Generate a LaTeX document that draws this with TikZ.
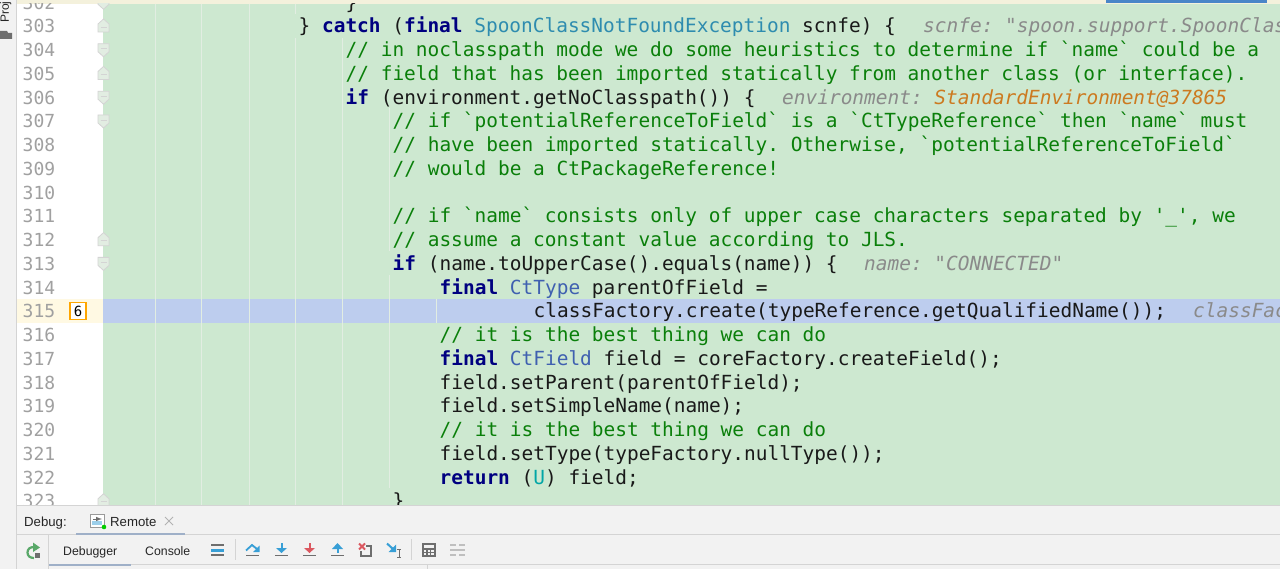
\documentclass[tikz,border=0pt]{standalone}
\usepackage{fontspec}
\setmainfont{Liberation Sans}
\newfontfamily\codefont{DejaVu Sans Mono}
\definecolor{editorgreen}{HTML}{CDE8D0}
\definecolor{rowblue}{HTML}{BDCDEE}
\definecolor{rowcream}{HTML}{FFF9E3}
\definecolor{panelgray}{HTML}{F2F2F2}
\definecolor{strip}{HTML}{F4F1DC}
\definecolor{rulegray}{HTML}{D4D4D4}
\definecolor{guide}{HTML}{E2EDE2}
\definecolor{numgray}{HTML}{A0A0A0}
\definecolor{commentgreen}{HTML}{0A7F0A}
\definecolor{keynavy}{HTML}{000080}
\definecolor{typeblue}{HTML}{3F60B0}
\definecolor{typeteal}{HTML}{2E8CAF}
\definecolor{hintgray}{HTML}{8A8A8A}
\definecolor{hintorange}{HTML}{CC7A20}
\definecolor{iconblue}{HTML}{389FD6}
\definecolor{iconred}{HTML}{DB5860}
\definecolor{icongray}{HTML}{6E6E6E}
\definecolor{icongreen}{HTML}{59A869}
\definecolor{tabline}{HTML}{9FB0C8}
\definecolor{tabbar}{HTML}{4A86C8}
\newcommand{\rowy}[1]{{33+(#1-303)*23.74}}
\newcommand{\foldy}[1]{{26+(#1-303)*23.74}}
\newcommand{\kw}[1]{\textcolor{keynavy}{\bfseries #1}}
\tikzset{
  codeline/.style={anchor=base west,inner sep=0pt,font=\codefont\frenchspacing\fontsize{19.45}{24}\selectfont,text=black!90},
  commentline/.style={codeline,text=commentgreen},
  hintline/.style={codeline,text=hintgray,font=\codefont\frenchspacing\itshape\fontsize{19.45}{24}\selectfont},
  gutternum/.style={anchor=base west,inner sep=0pt,font=\codefont\fontsize{18}{22}\selectfont,text=numgray},
  uilabel/.style={anchor=base west,inner sep=0pt,font=\fontsize{13.2}{16}\selectfont,text=black!85},
  tablabel/.style={uilabel,font=\fontsize{12.3}{16}\selectfont},
  guideline/.style={guide,line width=1pt},
  foldup/.pic={\draw[rulegray,fill=guide,line width=.8pt] (-5.5,6) -- (-5.5,-2) -- (0,-7) -- (5.5,-2) -- (5.5,6) -- cycle;
    \draw[rulegray,line width=.8pt] (-3,1) -- (3,1);},
  folddown/.pic={\draw[rulegray,fill=guide,line width=.8pt] (-5.5,-6) -- (-5.5,2) -- (0,7) -- (5.5,2) -- (5.5,-6) -- cycle;
    \draw[rulegray,line width=.8pt] (-3,-1) -- (3,-1);},
  stepbar/.style={icongray,line width=1.6pt},
}
\begin{document}
\begin{tikzpicture}[x=1pt,y=-1pt]
  \useasboundingbox (0,0) rectangle (1280,569);
  \clip (0,0) rectangle (1280,569);
  % backgrounds
  \fill[panelgray] (0,0) rectangle (1280,569);
  \fill[strip] (17,0) rectangle (1280,4);
  \fill[tabbar] (1106,0) rectangle (1267,3);
  \fill[white] (17,4) rectangle (103,505);
  \fill[editorgreen] (103,4) rectangle (1280,505);
  \fill[rowcream] (17,299.3) rectangle (103,322.8);
  \fill[rowblue] (103,299.3) rectangle (1280,322.8);
  \draw[rulegray] (16.5,0) -- (16.5,569);

  \begin{scope}
    \clip (17,4) rectangle (1280,505);
    % indent guides
    \foreach \gx in {155,201,249} \draw[guideline] (\gx,4) -- (\gx,505);
    \draw[guideline] (295,4) -- (295,14);
    \draw[guideline] (295,38) -- (295,505);
    \draw[guideline] (342,38) -- (342,505);
    \draw[guideline] (389,108) -- (389,251);
    \draw[guideline] (389,275) -- (389,488);
    \draw[guideline] (436,299.3) -- (436,322.8);
    % gutter
    \foreach \n in {302,...,323}
      \node[gutternum] (num\n) at (22.5,\rowy{\n}) {\n};
    \foreach \n in {303,305,312,323}
      \pic at (103.5,\foldy{\n}) {foldup};
    \foreach \n in {302,304,306,307,313}
      \pic at (103.5,\foldy{\n}) {folddown};

    % code
    \node[codeline] (l302) at (345.5,\rowy{302}) {\}};
    \node[codeline] (l303) at (298.5,\rowy{303}) {\} \kw{catch} (\kw{final} \textcolor{typeteal}{SpoonClassNotFoundException} scnfe) \{};
    \node[hintline] (h303) at (923,\rowy{303}) {scnfe: "spoon.support.SpoonClassNotFoundException};
    \node[commentline] (l304) at (345.5,\rowy{304}) {// in noclasspath mode we do some heuristics to determine if `name` could be a};
    \node[commentline] (l305) at (345.5,\rowy{305}) {// field that has been imported statically from another class (or interface).};
    \node[codeline] (l306) at (345.5,\rowy{306}) {\kw{if} (environment.getNoClasspath()) \{};
    \node[hintline] (h306) at (782,\rowy{306}) {environment: \textcolor{hintorange}{StandardEnvironment@37865}};
    \node[commentline] (l307) at (392.5,\rowy{307}) {// if `potentialReferenceToField` is a `CtTypeReference` then `name` must};
    \node[commentline] (l308) at (392.5,\rowy{308}) {// have been imported statically. Otherwise, `potentialReferenceToField`};
    \node[commentline] (l309) at (392.5,\rowy{309}) {// would be a CtPackageReference!};
    \node[commentline] (l311) at (392.5,\rowy{311}) {// if `name` consists only of upper case characters separated by '\_', we};
    \node[commentline] (l312) at (392.5,\rowy{312}) {// assume a constant value according to JLS.};
    \node[codeline] (l313) at (392.5,\rowy{313}) {\kw{if} (name.toUpperCase().equals(name)) \{};
    \node[hintline] (h313) at (864,\rowy{313}) {name: "CONNECTED"};
    \node[codeline] (l314) at (439.5,\rowy{314}) {\kw{final} \textcolor{typeblue}{CtType} parentOfField =};
    \node[codeline] (l315) at (533.5,\rowy{315}) {classFactory.create(typeReference.getQualifiedName());};
    \node[hintline] (h315) at (1193,\rowy{315}) {classFactory};
    \node[commentline] (l316) at (439.5,\rowy{316}) {// it is the best thing we can do};
    \node[codeline] (l317) at (439.5,\rowy{317}) {\kw{final} \textcolor{typeblue}{CtField} field = coreFactory.createField();};
    \node[codeline] (l318) at (439.5,\rowy{318}) {field.setParent(parentOfField);};
    \node[codeline] (l319) at (439.5,\rowy{319}) {field.setSimpleName(name);};
    \node[commentline] (l320) at (439.5,\rowy{320}) {// it is the best thing we can do};
    \node[codeline] (l321) at (439.5,\rowy{321}) {field.setType(typeFactory.nullType());};
    \node[codeline] (l322) at (439.5,\rowy{322}) {\kw{return} (\textcolor{teal!70!cyan}{U}) field;};
    \node[codeline] (l323) at (392.5,\rowy{323}) {\}};
  \end{scope}

  % hit counter
  \node[draw=orange!70!yellow,fill=white,line width=1.2pt,inner sep=0pt,minimum width=16pt,minimum height=17pt,font=\codefont\fontsize{14}{16}\selectfont] (hits) at (78,311) {6};

  % side tab
  \node[rotate=90,anchor=base west,inner sep=0pt,font=\fontsize{12}{14}\selectfont,text=black!85] (proj) at (9,23) {Proj};
  \fill[icongray] (0,31) -- (7,31) -- (8,33) -- (12,33) -- (12,39) -- (0,39) -- cycle;

  % debug panel
  \draw[rulegray] (17,505) -- (1280,505);
  \draw[rulegray] (17,534.5) -- (1280,534.5);
  \draw[rulegray] (48.5,535) -- (48.5,569);
  \draw[rulegray] (49,564.5) -- (1280,564.5);
  \draw[rulegray] (427.5,565) -- (427.5,569);
  \fill[tabline] (76,532.5) rectangle (185,535);
  \fill[tabline] (49,563.5) rectangle (131,566);
  \node[uilabel] (debuglabel) at (24,526) {Debug:};
  \node[uilabel] (remote) at (110,526) {Remote};
  \node[tablabel] (debugger) at (63,555) {Debugger};
  \node[tablabel] (console) at (145,555) {Console};
  % remote tab icon
  \draw[icongray!70,fill=white] (90,514) rectangle (104,527);
  \fill[iconblue!50] (92,521) rectangle (102,525);
  \draw[icongray,line width=1pt,-latex] (93,519) -- (102,519);
  \fill[green!80!black] (104,527) circle (2.3);
  \draw[black!30,line width=1pt] (165,517) -- (173,525) (173,517) -- (165,525);
  % rerun
  \draw[icongreen,line width=2.2pt] (34,547) .. controls (30,547) and (27.5,549) .. (27.5,552.5) .. controls (27.5,556) and (30,558) .. (34,558);
  \fill[icongreen] (33,542.5) -- (40,547.5) -- (33,552) -- cycle;
  \fill[icongray] (35,552.5) rectangle (40,558);
  % layout bars
  \fill[icongray] (211,544) rectangle (224,546);
  \fill[iconblue] (211,548.5) rectangle (224,551.5);
  \fill[icongray] (211,554) rectangle (224,556);
  \draw[rulegray,line width=1pt] (235,539) -- (235,560);
  \draw[rulegray,line width=1pt] (411,539) -- (411,560);
  % step over
  \draw[stepbar] (246,555.5) -- (259,555.5);
  \draw[iconblue,line width=1.8pt] (246,550.5) -- (252,545) -- (257,549);
  \fill[iconblue] (259.5,545.5) -- (259.5,552) -- (253,552) -- cycle;
  % step into, force step into, step out
  \draw[stepbar] (275,555.5) -- (288,555.5);
  \draw[iconblue,line width=2pt] (281.5,543) -- (281.5,548);
  \fill[iconblue] (276,548) -- (287,548) -- (281.5,553) -- cycle;
  \draw[stepbar] (303,555.5) -- (316,555.5);
  \draw[iconred,line width=2pt] (309.5,543) -- (309.5,548);
  \fill[iconred] (304,548) -- (315,548) -- (309.5,553) -- cycle;
  \draw[stepbar] (331,555.5) -- (344,555.5);
  \draw[iconblue,line width=2pt] (337.5,553) -- (337.5,548);
  \fill[iconblue] (332,549) -- (343,549) -- (337.5,543) -- cycle;
  % drop frame
  \draw[icongray,line width=1.6pt] (366,546) -- (371,546) -- (371,556) -- (361,556) -- (361,551);
  \draw[iconred,line width=1.8pt] (359,543.5) -- (365,549.5) (365,543.5) -- (359,549.5);
  % run to cursor
  \draw[iconblue,line width=2pt] (387,543.5) -- (393,549);
  \fill[iconblue] (396,544.5) -- (396,552) -- (388.5,552) -- cycle;
  \draw[icongray,line width=.9pt] (397,549) -- (401,549) (399,549) -- (399,557) (397,557) -- (401,557);
  % evaluate
  \fill[icongray] (422,543) rectangle (436,557);
  \fill[panelgray] (424,545) rectangle (434,548);
  \foreach \cx in {424,427.7,431.4}
    \foreach \cy in {550,553}
      \fill[panelgray] (\cx,\cy) rectangle +(2.4,2);
  % trace
  \draw[black!25,line width=1.4pt] (450,545) -- (456,545) (459,545) -- (465,545) (450,550) -- (465,550) (450,555) -- (456,555) (459,555) -- (465,555);
\end{tikzpicture}
\end{document}
